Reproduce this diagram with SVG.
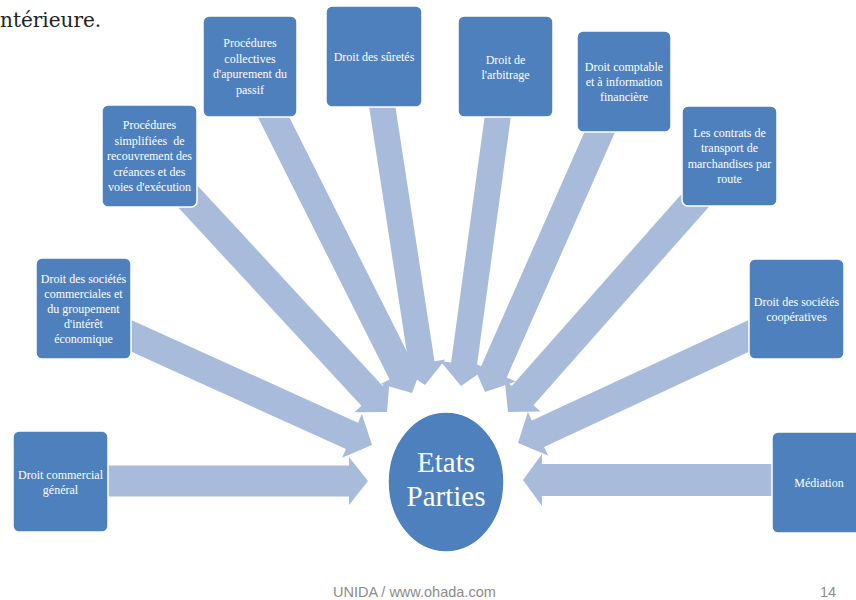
<svg xmlns="http://www.w3.org/2000/svg" width="856" height="600" viewBox="0 0 856 600">
<style>
.box{fill:#4d80bd;stroke:#ffffff;stroke-width:1.5}
.arrow{fill:#a8bbdb}
.lbl{font-family:"Liberation Serif","Times New Roman",serif;font-size:12px;fill:#ffffff;text-anchor:middle}
.big{font-family:"Liberation Serif","Times New Roman",serif;font-size:29px;fill:#ffffff;text-anchor:middle}
.top{font-family:"DejaVu Serif","Liberation Serif",serif;font-size:20px;fill:#222222}
.foot{font-family:"Liberation Sans",Arial,sans-serif;font-size:14.5px;fill:#8c8c8c}
</style>
<rect x="0" y="0" width="856" height="600" fill="#ffffff"/>
<text class="top" x="0" y="27">ntérieure.</text>

<g id="connectors">
  <path class="arrow" transform="translate(368,481)" d="M0,0 L-19,-24 L-19,-15.5 L-268,-15.5 L-268,15.5 L-19,15.5 L-19,24 Z"/>
  <path class="arrow" transform="translate(372,445) rotate(24.39)" d="M0,0 L-22,-24 L-22,-14.5 L-271,-14.5 L-271,14.5 L-22,14.5 L-22,24 Z"/>
  <path class="arrow" transform="translate(387,412) rotate(47.26)" d="M0,0 L-22,-24 L-22,-14.5 L-305,-14.5 L-305,14.5 L-22,14.5 L-22,24 Z"/>
  <path class="arrow" transform="translate(412,393) rotate(63.35)" d="M0,0 L-22,-24 L-22,-14 L-326,-14 L-326,14 L-22,14 L-22,24 Z"/>
  <path class="arrow" transform="translate(425,385) rotate(81.27)" d="M0,0 L-22,-24 L-22,-13 L-296,-13 L-296,13 L-22,13 L-22,24 Z"/>
  <path class="arrow" transform="translate(461,386) rotate(97.77)" d="M0,0 L-22,-24 L-22,-13 L-289,-13 L-289,13 L-22,13 L-22,24 Z"/>
  <path class="arrow" transform="translate(485,392) rotate(113.81)" d="M0,0 L-22,-24 L-22,-14 L-297,-14 L-297,14 L-22,14 L-22,24 Z"/>
  <path class="arrow" transform="translate(508,412) rotate(131.5)" d="M0,0 L-22,-24 L-22,-14.5 L-290,-14.5 L-290,14.5 L-22,14.5 L-22,24 Z"/>
  <path class="arrow" transform="translate(518,443) rotate(155.1)" d="M0,0 L-22,-24 L-22,-14.5 L-261,-14.5 L-261,14.5 L-22,14.5 L-22,24 Z"/>
  <path class="arrow" transform="translate(523,480) rotate(180)" d="M0,0 L-19,-26 L-19,-16 L-257,-16 L-257,16 L-19,16 L-19,26 Z"/>
</g>

<g id="center">
  <ellipse cx="446" cy="482" rx="58" ry="70" fill="#4d80bd" stroke="#ffffff" stroke-width="1.5"/>
  <text class="big" x="446" y="472">Etats</text>
  <text class="big" x="446" y="506">Parties</text>
</g>

<g id="n1">
  <rect class="box" x="13" y="431" width="95" height="101" rx="6"/>
  <text class="lbl" x="60.5" y="479">Droit commercial</text>
  <text class="lbl" x="60.5" y="494">général</text>
</g>
<g id="n2">
  <rect class="box" x="36" y="258" width="95" height="101" rx="6"/>
  <text class="lbl" x="83.5" y="282.5">Droit des sociétés</text>
  <text class="lbl" x="83.5" y="297.5">commerciales et</text>
  <text class="lbl" x="83.5" y="312.5">du groupement</text>
  <text class="lbl" x="83.5" y="327.5">d'intérêt</text>
  <text class="lbl" x="83.5" y="342.5">économique</text>
</g>
<g id="n3">
  <rect class="box" x="102" y="105" width="95" height="102" rx="6"/>
  <text class="lbl" x="149.5" y="129" xml:space="preserve">Procédures</text>
  <text class="lbl" x="149.5" y="144.5" xml:space="preserve">simplifiées  de</text>
  <text class="lbl" x="149.5" y="160">recouvrement des</text>
  <text class="lbl" x="149.5" y="175.5">créances et des</text>
  <text class="lbl" x="149.5" y="191">voies d'exécution</text>
</g>
<g id="n4">
  <rect class="box" x="203" y="16" width="94" height="101" rx="6"/>
  <text class="lbl" x="250" y="47">Procédures</text>
  <text class="lbl" x="250" y="62.5">collectives</text>
  <text class="lbl" x="250" y="78">d'apurement du</text>
  <text class="lbl" x="250" y="93.5">passif</text>
</g>
<g id="n5">
  <rect class="box" x="326" y="6" width="96" height="101" rx="6"/>
  <text class="lbl" x="374" y="61">Droit des sûretés</text>
</g>
<g id="n6">
  <rect class="box" x="458" y="16" width="95" height="101" rx="6"/>
  <text class="lbl" x="505.5" y="63.5">Droit de</text>
  <text class="lbl" x="505.5" y="78.5">l'arbitrage</text>
</g>
<g id="n7">
  <rect class="box" x="577" y="31" width="94" height="101" rx="6"/>
  <text class="lbl" x="624" y="71">Droit comptable</text>
  <text class="lbl" x="624" y="86">et à information</text>
  <text class="lbl" x="624" y="101">financière</text>
</g>
<g id="n8">
  <rect class="box" x="682" y="106" width="95" height="100" rx="6"/>
  <text class="lbl" x="729.5" y="137">Les contrats de</text>
  <text class="lbl" x="729.5" y="152">transport de</text>
  <text class="lbl" x="729.5" y="167.5">marchandises par</text>
  <text class="lbl" x="729.5" y="183">route</text>
</g>
<g id="n9">
  <rect class="box" x="749" y="259" width="95" height="100" rx="6"/>
  <text class="lbl" x="796.5" y="306">Droit des sociétés</text>
  <text class="lbl" x="796.5" y="321">coopératives</text>
</g>
<g id="n10">
  <rect class="box" x="772" y="432" width="95" height="101" rx="6"/>
  <text class="lbl" x="819" y="487">Médiation</text>
</g>

<text class="foot" x="333" y="597">UNIDA / www.ohada.com</text>
<text class="foot" x="820" y="597">14</text>
</svg>
